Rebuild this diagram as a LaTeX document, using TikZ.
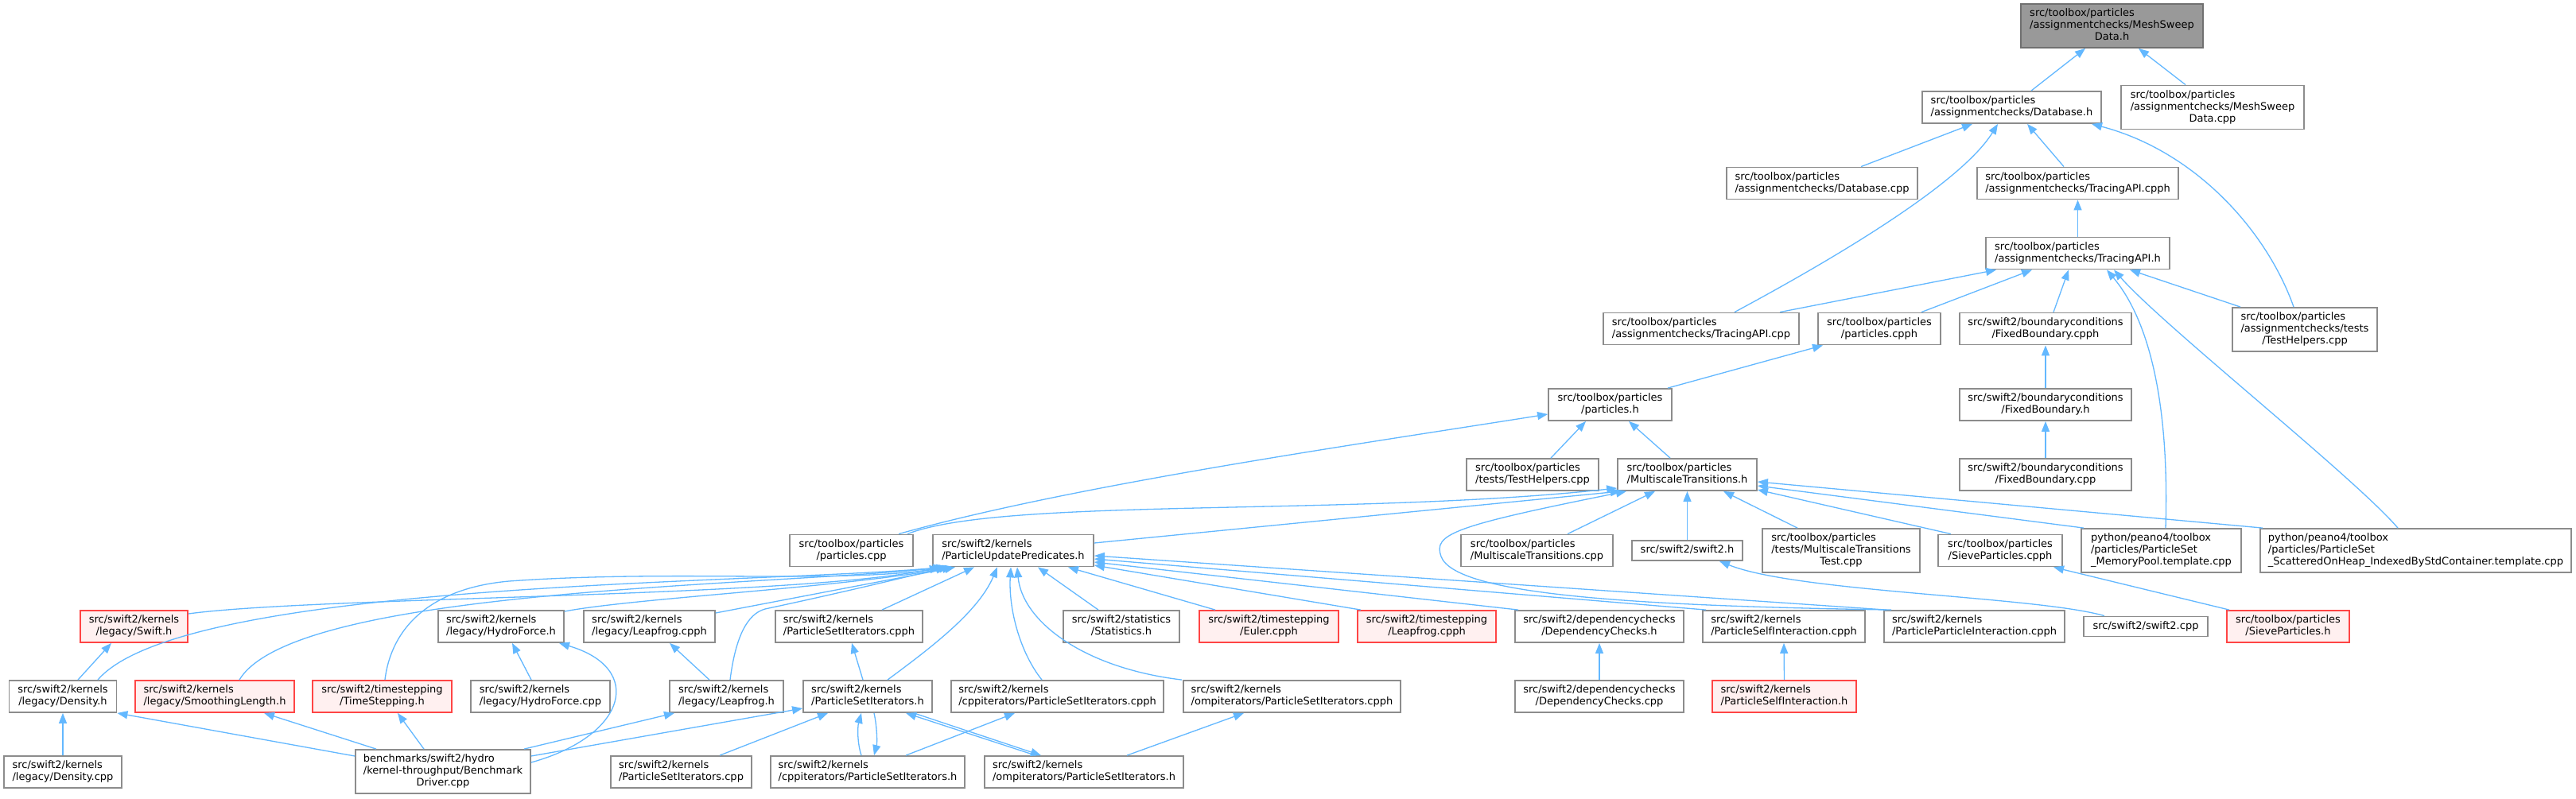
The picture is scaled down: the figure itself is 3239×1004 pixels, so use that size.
\documentclass[tikz,border=0pt]{standalone}
\usepackage{fontspec}
\setmainfont{DejaVu Sans}
\usetikzlibrary{arrows.meta}
\definecolor{edgeblue}{HTML}{63B8FF}
\definecolor{nodegray}{HTML}{8C8C8C}
\definecolor{rootfill}{HTML}{999999}
\definecolor{rootborder}{HTML}{707070}
\definecolor{redborder}{HTML}{FF4545}
\definecolor{redfill}{HTML}{FFF0F0}
\newcommand\Lone[1]{\begin{tabular}{@{}c@{}}#1\end{tabular}}
\newcommand\Ltwo[2]{\begin{tabular}{@{}c@{}}\multicolumn{1}{@{}l@{}}{#1}\\#2\end{tabular}}
\newcommand\Lthree[3]{\begin{tabular}{@{}c@{}}\multicolumn{1}{@{}l@{}}{#1}\\\multicolumn{1}{@{}l@{}}{#2}\\#3\end{tabular}}
\tikzset{
  nd/.style={draw=nodegray, line width=1.8pt, fill=white, inner xsep=9pt, inner ysep=5pt,
    font=\fontsize{13}{15}\selectfont, anchor=center},
  rootnd/.style={nd, fill=rootfill, draw=rootborder},
  rednd/.style={nd, draw=redborder, fill=redfill},
  edge/.style={draw=edgeblue, line width=1.3pt, -{Triangle[length=13pt,width=10pt]}},
}
\begin{document}
\begin{tikzpicture}[x=1pt,y=-1pt]
\fill[white] (0,0) rectangle (3239,1004);
\useasboundingbox (0,0) rectangle (3239,1004);
% ---------- nodes ----------
\node[rootnd, minimum width=229pt] (msdh) at (2655.5,32.5) {\Lthree{src/toolbox/particles}{/assignmentchecks/MeshSweep}{Data.h}};
\node[nd, minimum width=225pt] (dbh) at (2529.5,135) {\Ltwo{src/toolbox/particles}{/assignmentchecks/Database.h}};
\node[nd, minimum width=230pt] (msdcpp) at (2782,135) {\Lthree{src/toolbox/particles}{/assignmentchecks/MeshSweep}{Data.cpp}};
\node[nd, minimum width=240pt] (dbcpp) at (2291,230.5) {\Ltwo{src/toolbox/particles}{/assignmentchecks/Database.cpp}};
\node[nd, minimum width=253pt] (tapicpph) at (2612.5,230.5) {\Ltwo{src/toolbox/particles}{/assignmentchecks/TracingAPI.cpph}};
\node[nd, minimum width=231pt] (tapih) at (2612.5,318.5) {\Ltwo{src/toolbox/particles}{/assignmentchecks/TracingAPI.h}};
\node[nd, minimum width=246pt] (tapicpp) at (2139,413.5) {\Ltwo{src/toolbox/particles}{/assignmentchecks/TracingAPI.cpp}};
\node[nd, minimum width=154pt] (pcpph) at (2363,413.5) {\Ltwo{src/toolbox/particles}{/particles.cpph}};
\node[nd, minimum width=216pt] (fbcpph) at (2572,413.5) {\Ltwo{src/swift2/boundaryconditions}{/FixedBoundary.cpph}};
\node[nd, minimum width=182pt] (atest) at (2898,414.5) {\Lthree{src/toolbox/particles}{/assignmentchecks/tests}{/TestHelpers.cpp}};
\node[nd, minimum width=155pt] (ph) at (2024.5,509) {\Ltwo{src/toolbox/particles}{/particles.h}};
\node[nd, minimum width=216pt] (fbh) at (2572,509) {\Ltwo{src/swift2/boundaryconditions}{/FixedBoundary.h}};
\node[nd, minimum width=166pt] (ttest) at (1927,597) {\Ltwo{src/toolbox/particles}{/tests/TestHelpers.cpp}};
\node[nd, minimum width=175pt] (msth) at (2121.5,597) {\Ltwo{src/toolbox/particles}{/MultiscaleTransitions.h}};
\node[nd, minimum width=216pt] (fbcpp) at (2572,597) {\Ltwo{src/swift2/boundaryconditions}{/FixedBoundary.cpp}};
\node[nd, minimum width=155pt] (pcpp) at (1070.5,692.5) {\Ltwo{src/toolbox/particles}{/particles.cpp}};
\node[nd, minimum width=202pt] (pup) at (1274,692.5) {\Ltwo{src/swift2/kernels}{/ParticleUpdatePredicates.h}};
\node[nd, minimum width=191pt] (mstcpp) at (1932.5,692.5) {\Ltwo{src/toolbox/particles}{/MultiscaleTransitions.cpp}};
\node[nd, minimum width=139pt] (swh) at (2121.5,692.5) {\Lone{src/swift2/swift2.h}};
\node[nd, minimum width=198pt] (msttest) at (2315,692.5) {\Lthree{src/toolbox/particles}{/tests/MultiscaleTransitions}{Test.cpp}};
\node[nd, minimum width=156pt] (sievecpph) at (2515,692.5) {\Ltwo{src/toolbox/particles}{/SieveParticles.cpph}};
\node[nd, minimum width=201pt] (mempool) at (2717.5,692.5) {\Lthree{python/peano4/toolbox}{/particles/ParticleSet}{\_MemoryPool.template.cpp}};
\node[nd, minimum width=391pt] (scattered) at (3037.5,692.5) {\Lthree{python/peano4/toolbox}{/particles/ParticleSet}{\_ScatteredOnHeap\_IndexedByStdContainer.template.cpp}};
\node[rednd, minimum width=135pt] (swifth) at (168.5,788) {\Ltwo{src/swift2/kernels}{/legacy/Swift.h}};
\node[nd, minimum width=158pt] (hfh) at (630,788) {\Ltwo{src/swift2/kernels}{/legacy/HydroForce.h}};
\node[nd, minimum width=165pt] (lfcpph) at (816.5,788) {\Ltwo{src/swift2/kernels}{/legacy/Leapfrog.cpph}};
\node[nd, minimum width=185pt] (psicpph) at (1067.5,788) {\Ltwo{src/swift2/kernels}{/ParticleSetIterators.cpph}};
\node[nd, minimum width=146pt] (stath) at (1410,788) {\Ltwo{src/swift2/statistics}{/Statistics.h}};
\node[rednd, minimum width=175pt] (euler) at (1595.5,788) {\Ltwo{src/swift2/timestepping}{/Euler.cpph}};
\node[rednd, minimum width=174pt] (tslf) at (1794,788) {\Ltwo{src/swift2/timestepping}{/Leapfrog.cpph}};
\node[nd, minimum width=212pt] (dch) at (2011,788) {\Ltwo{src/swift2/dependencychecks}{/DependencyChecks.h}};
\node[nd, minimum width=204pt] (psicpph2) at (2243,788) {\Ltwo{src/swift2/kernels}{/ParticleSelfInteraction.cpph}};
\node[nd, minimum width=227pt] (ppicpph) at (2482.5,788) {\Ltwo{src/swift2/kernels}{/ParticleParticleInteraction.cpph}};
\node[nd, minimum width=156pt] (swcpp) at (2698,788) {\Lone{src/swift2/swift2.cpp}};
\node[rednd, minimum width=154pt] (sieveh) at (2877,788) {\Ltwo{src/toolbox/particles}{/SieveParticles.h}};
\node[nd, minimum width=135pt] (densh) at (79,876) {\Ltwo{src/swift2/kernels}{/legacy/Density.h}};
\node[rednd, minimum width=200pt] (smooth) at (270,876) {\Ltwo{src/swift2/kernels}{/legacy/SmoothingLength.h}};
\node[rednd, minimum width=175pt] (tsh) at (480.5,876) {\Ltwo{src/swift2/timestepping}{/TimeStepping.h}};
\node[nd, minimum width=175pt] (hfcpp) at (679.5,876) {\Ltwo{src/swift2/kernels}{/legacy/HydroForce.cpp}};
\node[nd, minimum width=143pt] (lfh) at (913.5,876) {\Ltwo{src/swift2/kernels}{/legacy/Leapfrog.h}};
\node[nd, minimum width=162pt] (psih) at (1091,876) {\Ltwo{src/swift2/kernels}{/ParticleSetIterators.h}};
\node[nd, minimum width=267pt] (cppcpph) at (1329.5,876) {\Ltwo{src/swift2/kernels}{/cppiterators/ParticleSetIterators.cpph}};
\node[nd, minimum width=273pt] (ompcpph) at (1624.5,876) {\Ltwo{src/swift2/kernels}{/ompiterators/ParticleSetIterators.cpph}};
\node[nd, minimum width=212pt] (dccpp) at (2011,876) {\Ltwo{src/swift2/dependencychecks}{/DependencyChecks.cpp}};
\node[rednd, minimum width=181pt] (psih2) at (2243.5,876) {\Ltwo{src/swift2/kernels}{/ParticleSelfInteraction.h}};
\node[nd, minimum width=148pt] (denscpp) at (79,971) {\Ltwo{src/swift2/kernels}{/legacy/Density.cpp}};
\node[nd, minimum width=220pt] (bench) at (557,970.5) {\Lthree{benchmarks/swift2/hydro}{/kernel-throughput/Benchmark}{Driver.cpp}};
\node[nd, minimum width=177pt] (psicpp) at (856.5,971) {\Ltwo{src/swift2/kernels}{/ParticleSetIterators.cpp}};
\node[nd, minimum width=244pt] (cpph) at (1091,971) {\Ltwo{src/swift2/kernels}{/cppiterators/ParticleSetIterators.h}};
\node[nd, minimum width=250pt] (omph) at (1363,971) {\Ltwo{src/swift2/kernels}{/ompiterators/ParticleSetIterators.h}};
% ---------- edges: top ----------
\draw[edge] (dbh.north -| 2554,0) -- (msdh.south -| 2622,0);
\draw[edge] (msdcpp.north -| 2748,0) -- (msdh.south -| 2689,0);
\draw[edge] (dbcpp.north -| 2340,0) -- (dbh.south -| 2480,0);
\draw[edge] (tapicpph.north -| 2595,0) -- (dbh.south -| 2549,0);
\draw[edge] (tapicpp.north -| 2181,0) .. controls (2260,350) and (2460,240) .. (dbh.south -| 2512,0);
\draw[edge] (atest.north -| 2884,0) .. controls (2850,290) and (2760,190) .. (dbh.south -| 2630,0);
\draw[edge] (tapih.north) -- (tapicpph.south);
\draw[edge] (tapicpp.north -| 2238,0) -- (tapih.south -| 2510,0);
\draw[edge] (pcpph.north -| 2416,0) -- (tapih.south -| 2555,0);
\draw[edge] (fbcpph.north -| 2582,0) -- (tapih.south -| 2601,0);
\draw[edge] (mempool.north -| 2723,0) .. controls (2728,500) and (2700,400) .. (tapih.south -| 2649,0);
\draw[edge] (scattered.north -| 3015,0) .. controls (2960,600) and (2720,410) .. (tapih.south -| 2658,0);
\draw[edge] (atest.north -| 2817,0) -- (tapih.south -| 2678,0);
\draw[edge] (ph.north -| 2097,0) -- (pcpph.south -| 2292,0);
\draw[edge] (fbh.north) -- (fbcpph.south);
\draw[edge] (fbcpp.north) -- (fbh.south);
\draw[edge] (ttest.north -| 1950,0) -- (ph.south -| 1994,0);
\draw[edge] (msth.north -| 2100,0) -- (ph.south -| 2048,0);
\draw[edge] (pcpp.north -| 1130,0) .. controls (1350,610) and (1700,560) .. (ph.west |- 0,521);
% ---------- edges: MultiscaleTransitions.h ----------
\draw[edge] (pcpp.north -| 1141,0) .. controls (1260,625) and (1700,650) .. (msth.west |- 0,614);
\draw[edge] (pup.east |- 0,683) -- (msth.south -| 2038,0);
\draw[edge] (ppicpph.north -| 2378,0) .. controls (2050,762) and (1830,748) .. (1812,700) .. controls (1802,672) and (1825,662) .. (msth.south -| 2045,0);
\draw[edge] (mstcpp.north -| 1971,0) -- (msth.south -| 2081,0);
\draw[edge] (swh.north) -- (msth.south);
\draw[edge] (msttest.north -| 2260,0) -- (msth.south -| 2167,0);
\draw[edge] (sievecpph.north -| 2453,0) -- (msth.east |- 0,616);
\draw[edge] (mempool.north -| 2620,0) -- (msth.east |- 0,611);
\draw[edge] (scattered.north -| 2845,0) -- (msth.east |- 0,606);
\draw[edge] (sieveh.north -| 2803,0) -- (sievecpph.south -| 2582,0);
\draw[edge] (swcpp.north -| 2646,0) .. controls (2560,750) and (2260,745) .. (swh.south -| 2162,0);
% ---------- edges: ParticleUpdatePredicates.h ----------
\draw[edge] (ppicpph.north -| 2372,0) -- (pup.east |- 0,699);
\draw[edge] (psicpph2.north -| 2145,0) -- (pup.east |- 0,703);
\draw[edge] (dch.north -| 1909,0) -- (pup.east |- 0,707);
\draw[edge] (tslf.north -| 1711,0) -- (pup.east |- 0,711);
\draw[edge] (euler.north -| 1528,0) -- (pup.south -| 1343,0);
\draw[edge] (stath.north -| 1381,0) -- (pup.south -| 1305,0);
\draw[edge] (psicpph.north -| 1109,0) -- (pup.south -| 1225,0);
\draw[edge] (psih.north -| 1116,0) .. controls (1170,815) and (1230,770) .. (pup.south -| 1254,0);
\draw[edge] (cppcpph.north -| 1310,0) .. controls (1282,820) and (1268,765) .. (pup.south -| 1271,0);
\draw[edge] (ompcpph.north -| 1486,0) .. controls (1360,840) and (1285,780) .. (pup.south -| 1279,0);
\draw[edge] (swifth.east |- 0,772) .. controls (400,750) and (1000,752) .. (pup.south -| 1182,0);
\draw[edge] (densh.north -| 123,0) .. controls (230,730) and (950,735) .. (pup.south -| 1186,0);
\draw[edge] (smooth.north -| 301,0) .. controls (370,740) and (950,738) .. (pup.south -| 1190,0);
\draw[edge] (tsh.north -| 484,0) .. controls (492,790) and (540,740) .. (640,731) .. controls (850,716) and (1050,735) .. (pup.south -| 1194,0);
\draw[edge] (hfh.east |- 0,769) .. controls (800,752) and (1050,740) .. (pup.south -| 1198,0);
\draw[edge] (lfcpph.east |- 0,771) -- (pup.south -| 1201,0);
\draw[edge] (lfh.north -| 918,0) .. controls (925,800) and (940,772) .. (962,766) .. controls (1060,745) and (1130,728) .. (pup.south -| 1190,0);
% ---------- edges: ParticleSetIterators ----------
\draw[edge] (psih.north -| 1085,0) -- (psicpph.south -| 1071,0);
\draw[edge] (psicpp.north -| 905,0) -- (psih.south -| 1041,0);
\draw[edge] (cpph.north -| 1083,0) .. controls (1078,935) and (1078,915) .. (psih.south -| 1083,0);
\draw[edge] (psih.south -| 1099,0) .. controls (1103,915) and (1103,935) .. (cpph.north -| 1099,0);
\draw[edge] (omph.north -| 1302,0) -- (psih.south -| 1139,0);
\draw[edge] (psih.south -| 1149,0) -- (omph.north -| 1309,0);
\draw[edge] (cpph.north -| 1139,0) -- (cppcpph.south -| 1276,0);
\draw[edge] (omph.north -| 1417,0) -- (ompcpph.south -| 1564,0);
% ---------- edges: benchmark driver ----------
\draw[edge] (bench.west |- 0,951) -- (densh.south east);
\draw[edge] (bench.north -| 473,0) -- (smooth.south -| 332,0);
\draw[edge] (bench.north -| 533,0) -- (tsh.south -| 500,0);
\draw[edge] (bench.east |- 0,959) .. controls (790,925) and (810,840) .. (hfh.south -| 703,0);
\draw[edge] (bench.north -| 659,0) -- (lfh.south -| 848,0);
\draw[edge] (bench.east |- 0,951) -- (psih.west |- 0,891);
% ---------- edges: others ----------
\draw[edge] (densh.north -| 98,0) -- (swifth.south -| 140,0);
\draw[edge] (denscpp.north) -- (densh.south);
\draw[edge] (hfcpp.north -| 668,0) -- (hfh.south -| 644,0);
\draw[edge] (lfh.north -| 892,0) -- (lfcpph.south -| 842,0);
\draw[edge] (dccpp.north) -- (dch.south);
\draw[edge] (psih2.north) -- (psicpph2.south);
\end{tikzpicture}
\end{document}
